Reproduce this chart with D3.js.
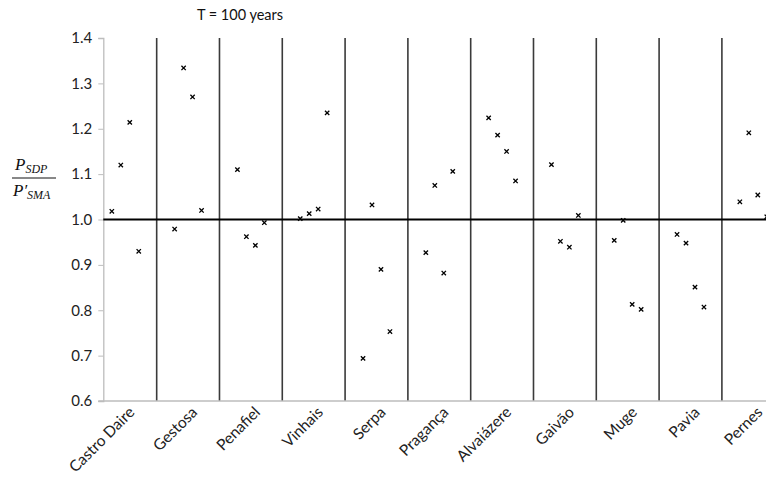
<!DOCTYPE html>
<html>
<head>
<meta charset="utf-8">
<script src="https://cdn.jsdelivr.net/npm/d3@7"></script>
<style>
  body { margin: 0; background: #fff; }
  svg { display: block; font-family: Lato, "Liberation Sans", sans-serif; }
</style>
</head>
<body>
<div id="chart"></div>
<script>
// P_SDP / P'_SMA ratios per site, T = 100 years
const sites = ['Castro Daire', 'Gestosa', 'Penafiel', 'Vinhais', 'Serpa', 'Pragança',
  'Alvaiázere', 'Gaivão', 'Muge', 'Pavia', 'Pernes'];

// four values per site, left to right inside each column
const run1 = [1.018, 0.979, 1.110, 1.002, 0.694, 0.927, 1.224, 1.121, 0.954, 0.967, 1.039];
const run2 = [1.120, 1.334, 0.962, 1.013, 1.032, 1.075, 1.186, 0.952, 0.998, 0.948, 1.191];
const run3 = [1.214, 1.270, 0.943, 1.023, 0.890, 0.882, 1.150, 0.939, 0.813, 0.851, 1.054];
const run4 = [0.930, 1.020, 0.993, 1.235, 0.753, 1.106, 1.085, 1.009, 0.802, 0.807, 1.006];

const yTicks = [0.6, 0.7, 0.8, 0.9, 1.0, 1.1, 1.2, 1.3, 1.4];
const refValue = 1.0;
const title = 'T = 100 years';

const width = 766, height = 477;

const svg = d3.select('#chart').append('svg')
  .attr('width', width)
  .attr('height', height);

// x is in "site units": site k occupies [k, k+1]; axis starts a bit inside the first one
const x = d3.scaleLinear().domain([0.15, 11]).range([103.3, 784.7]);
const y = d3.scaleLinear().domain([0.6, 1.4]).range([401, 38]);

// column separators
svg.append('g')
  .selectAll('line')
  .data(d3.range(1, sites.length))
  .join('line')
  .attr('x1', d => x(d)).attr('x2', d => x(d))
  .attr('y1', y(1.4)).attr('y2', y(0.6))
  .attr('stroke', '#3a3a3a')
  .attr('stroke-width', 1.6);

// y axis
const yAxis = svg.append('g')
  .attr('transform', `translate(${x(0.15)},0)`)
  .call(d3.axisLeft(y).tickValues(yTicks).tickFormat(d3.format('.1f')).tickSize(5).tickPadding(6));
yAxis.select('.domain').attr('stroke', '#bdbdbd').attr('stroke-width', 1.3);
yAxis.selectAll('.tick line').attr('stroke', '#bdbdbd');
yAxis.selectAll('.tick text')
  .attr('fill', '#222')
  .style('font-size', '15px')
  .style('font-family', 'Lato, sans-serif');

// bottom axis line
svg.append('line')
  .attr('x1', x(0.15) - 5).attr('x2', width)
  .attr('y1', y(0.6)).attr('y2', y(0.6))
  .attr('stroke', '#bdbdbd')
  .attr('stroke-width', 1.6);

// reference line at 1.0
svg.append('line')
  .attr('x1', x(0.15)).attr('x2', width)
  .attr('y1', y(refValue)).attr('y2', y(refValue))
  .attr('stroke', '#000')
  .attr('stroke-width', 2);

// markers
const runs = [run1, run2, run3, run4];
const points = [];
runs.forEach((run, i) => {
  run.forEach((v, k) => points.push({ pos: k + (i + 2) / 7, value: v }));
});

const cross = d3.symbol().type(d3.symbolTimes).size(14);
svg.append('g')
  .selectAll('path')
  .data(points)
  .join('path')
  .attr('d', cross)
  .attr('transform', d => `translate(${x(d.pos)},${y(d.value)})`)
  .attr('fill', 'none')
  .attr('stroke', '#000')
  .attr('stroke-width', 1.3);

// site labels, rotated
svg.append('g')
  .selectAll('text')
  .data(sites)
  .join('text')
  .attr('transform', (d, k) => `translate(${x(k + 0.5) + 2},${y(0.6) + 4}) rotate(-45)`)
  .attr('text-anchor', 'end')
  .attr('dy', '0.75em')
  .attr('fill', '#222')
  .style('font-size', '15.5px')
  .text(d => d);

// title
svg.append('text')
  .attr('x', 240).attr('y', 20)
  .attr('text-anchor', 'middle')
  .attr('fill', '#111')
  .style('font-size', '14.5px')
  .text(title);

// y label as a fraction
const lab = svg.append('g')
  .style('font-family', '"Liberation Serif", "DejaVu Serif", serif')
  .style('font-style', 'italic')
  .attr('fill', '#111');

const num = lab.append('text').attr('x', 15).attr('y', 170).style('font-size', '17px');
num.append('tspan').text('P');
num.append('tspan').attr('dy', 3).style('font-size', '12px').text('SDP');

lab.append('line')
  .attr('x1', 12).attr('x2', 56)
  .attr('y1', 178).attr('y2', 178)
  .attr('stroke', '#111')
  .attr('stroke-width', 1);

const den = lab.append('text').attr('x', 13).attr('y', 196).style('font-size', '17px');
den.append('tspan').text('P′');
den.append('tspan').attr('dy', 3).style('font-size', '12px').text('SMA');
</script>
</body>
</html>
